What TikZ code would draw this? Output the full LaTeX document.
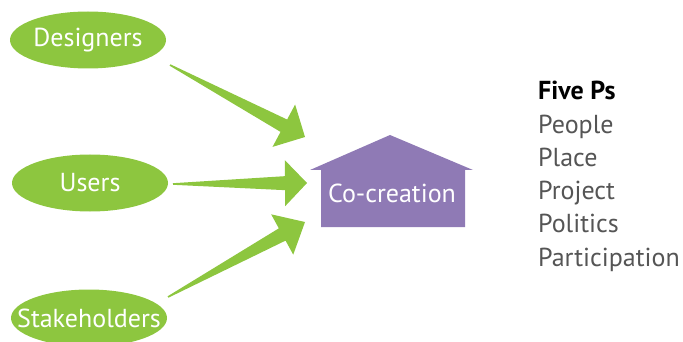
\documentclass[tikz,border=0pt]{standalone}
\usepackage{fontspec}
\setmainfont{PT Sans}
\usetikzlibrary{shapes.geometric,calc}
\definecolor{leaf}{HTML}{8DC63F}
\definecolor{housec}{HTML}{8F7AB5}
\definecolor{listgray}{HTML}{555555}
\tikzset{
  actor/.style={ellipse, fill=leaf, minimum width=156pt, minimum height=57pt, inner sep=0pt,
    text=white, font=\fontsize{26}{30}\selectfont},
  listitem/.style={anchor=base west, inner sep=0pt, text=listgray, font=\fontsize{26}{30}\selectfont},
}
\newcommand\fatarrow[4]{% tail, tip, head length, head half width
  \coordinate (hb) at ($(#2)!#3!(#1)$);
  \fill[leaf] ($(#1)!0.8pt!90:(#2)$) -- ($(hb)!7pt!-90:(#1)$) -- ($(hb)!#4!-90:(#1)$) -- (#2)
    -- ($(hb)!#4!90:(#1)$) -- ($(hb)!7pt!90:(#1)$) -- ($(#1)!0.8pt!-90:(#2)$) -- cycle;
}
\begin{document}
\begin{tikzpicture}[x=1pt,y=-1pt]
\useasboundingbox (0,0) rectangle (683,342);
\node[actor] (des) at (88,40) {\makebox[0pt]{Designers}};
\node[actor] (usr) at (90,183) {\makebox[0pt]{Users}};
\node[actor] (stk) at (89,318) {\makebox[0pt]{Stakeholders}};
% house
\fill[housec] (390,135) -- (473,170) -- (465,170) -- (465,227) -- (321,227) -- (321,170) -- (310,170) -- cycle;
\node[text=white, font=\fontsize{26}{30}\selectfont, inner sep=0pt] (co) at (392,193) {Co-creation};
% arrows
\coordinate (t1) at (170,65);  \coordinate (p1) at (305,137);
\coordinate (t2) at (173,184); \coordinate (p2) at (307,183);
\coordinate (t3) at (168,297); \coordinate (p3) at (305,222);
\fatarrow{t1}{p1}{24pt}{24pt}
\fatarrow{t2}{p2}{22pt}{23pt}
\fatarrow{t3}{p3}{26pt}{23pt}
% list
\node[listitem, text=black, font=\fontsize{26}{30}\selectfont\bfseries] (h) at (538,100) {Five Ps};
\node[listitem] (l1) at (538,134) {People};
\node[listitem] (l2) at (538,167) {Place};
\node[listitem] (l3) at (538,200) {Project};
\node[listitem] (l4) at (538,233) {Politics};
\node[listitem] (l5) at (538,266) {Participation};
\end{tikzpicture}
\end{document}
